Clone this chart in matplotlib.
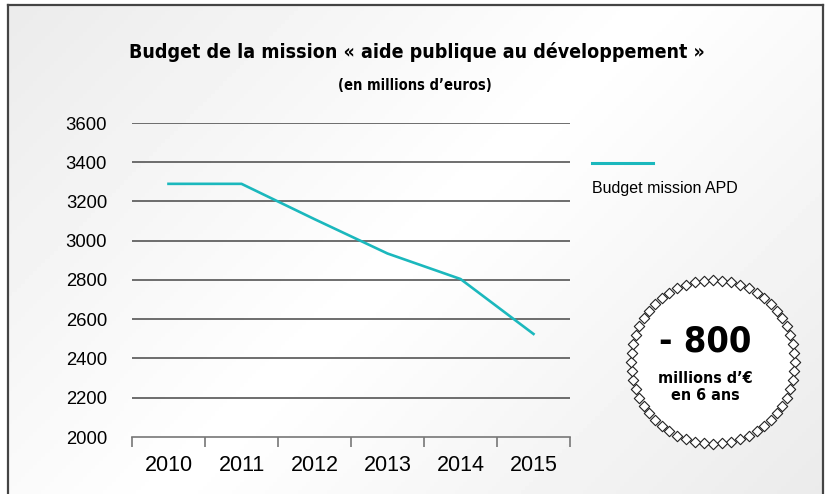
import numpy as np
import matplotlib
matplotlib.use("Agg")
import matplotlib.pyplot as plt
from matplotlib.lines import Line2D
from matplotlib import font_manager

# data
years = ["2010", "2011", "2012", "2013", "2014", "2015"]
budget = [3290, 3290, 3110, 2935, 2805, 2525]
y_ticks = [2000, 2200, 2400, 2600, 2800, 3000, 3200, 3400, 3600]

title = "Budget de la mission « aide publique au développement »"
subtitle = "(en millions d\u2019euros)"
legend_label = "Budget mission APD"
badge_big = "- 800"
badge_small = "millions d\u2019\u20ac\nen 6 ans"

teal = "#1bb8bd"
grid_col = "#555555"
plt.rcParams["font.family"] = ["Liberation Sans", "DejaVu Sans"]

# condensed face for title and badge, if one is installed
cond_path = None
for f in font_manager.findSystemFonts():
    name = f.lower()
    if "dejavusanscondensed-bold" in name.replace(" ", ""):
        cond_path = f
cond = font_manager.FontProperties(fname=cond_path) if cond_path else \
    font_manager.FontProperties(family="DejaVu Sans", stretch="condensed", weight="bold")

W, H = 827, 494
fig = plt.figure(figsize=(W / 100, H / 100), dpi=100)

# background gradient + frame
bg = fig.add_axes([0, 0, 1, 1], zorder=-5)
xx, yy = np.meshgrid(np.linspace(0, 1, 200), np.linspace(0, 1, 120))
d = (xx * W + yy * H) / (W + H)
shade = 1 - 0.08 * np.abs(d - 0.5) * 2
bg.imshow(shade, cmap="gray", vmin=0, vmax=1, extent=[0, W, H, 0], aspect="auto")
bg.fill_between([0, W], 0, 5, color="white")
bg.fill_between([0, 7], 0, H, color="white")
bg.fill_between([824, W], 0, H, color="white")
bg.set_xlim(0, W)
bg.set_ylim(H, 0)
bg.axis("off")
for xs, ys in [([7.5, 7.5], [5.5, H]), ([7.5, 823], [5.5, 5.5]), ([823, 823], [5.5, H])]:
    bg.add_line(Line2D(xs, ys, color="#444444", lw=1.6))

ax = fig.add_axes([132 / W, 1 - 437 / H, 438 / W, 314 / H])
ax.patch.set_alpha(0)
x = np.arange(len(years))
ax.plot(x, budget, color=teal, lw=1.9, zorder=3)
ax.set_xlim(-0.5, len(years) - 0.5)
ax.set_ylim(y_ticks[0], y_ticks[-1])
for v in y_ticks[1:]:
    ax.axhline(v, color=grid_col, lw=1.2, zorder=1)
for s in ["top", "right", "left"]:
    ax.spines[s].set_visible(False)
ax.spines["bottom"].set_color("#777777")
ax.spines["bottom"].set_linewidth(1.2)

ax.set_yticks(y_ticks)
ax.set_yticklabels([str(v) for v in y_ticks], fontsize=13.3)
ax.tick_params(axis="y", length=0, pad=18)
ax.set_xticks(np.arange(-0.5, len(years)))
ax.set_xticklabels([])
ax.tick_params(axis="x", which="major", length=7, color="#777777", width=1.2)
ax.set_xticks(x, minor=True)
ax.set_xticklabels(years, minor=True, fontsize=15.5)
ax.tick_params(axis="x", which="minor", length=0, pad=13)

fig.text(417 / W, 1 - 52 / H, title, ha="center", va="center",
         fontproperties=cond, fontsize=14)
fig.text(415 / W, 1 - 86 / H, subtitle, ha="center", va="center",
         fontproperties=cond, fontsize=10.5)

# legend
bg.add_line(Line2D([592, 653], [163, 163], color=teal, lw=2.2))
bg.text(592, 188, legend_label, ha="left", va="center", fontsize=11.5)

# badge
cx, cy, r = 713, 362, 82
n = 56
ang = np.linspace(0, 2 * np.pi, n, endpoint=False)
bg.add_patch(plt.Circle((cx, cy), r, color="white", zorder=2))
bg.scatter(cx + r * np.cos(ang), cy + r * np.sin(ang), marker="D", s=28,
           facecolor="white", edgecolor="#222222", linewidths=0.8, zorder=3)
bg.text(cx - 8, cy - 21, badge_big, ha="center", va="center",
        fontproperties=cond, fontsize=26, zorder=4)
bg.text(cx - 8, cy + 25, badge_small, ha="center", va="center",
        fontproperties=cond, fontsize=11.5, linespacing=1.1, zorder=4)

fig.savefig("out.png", dpi=100)
